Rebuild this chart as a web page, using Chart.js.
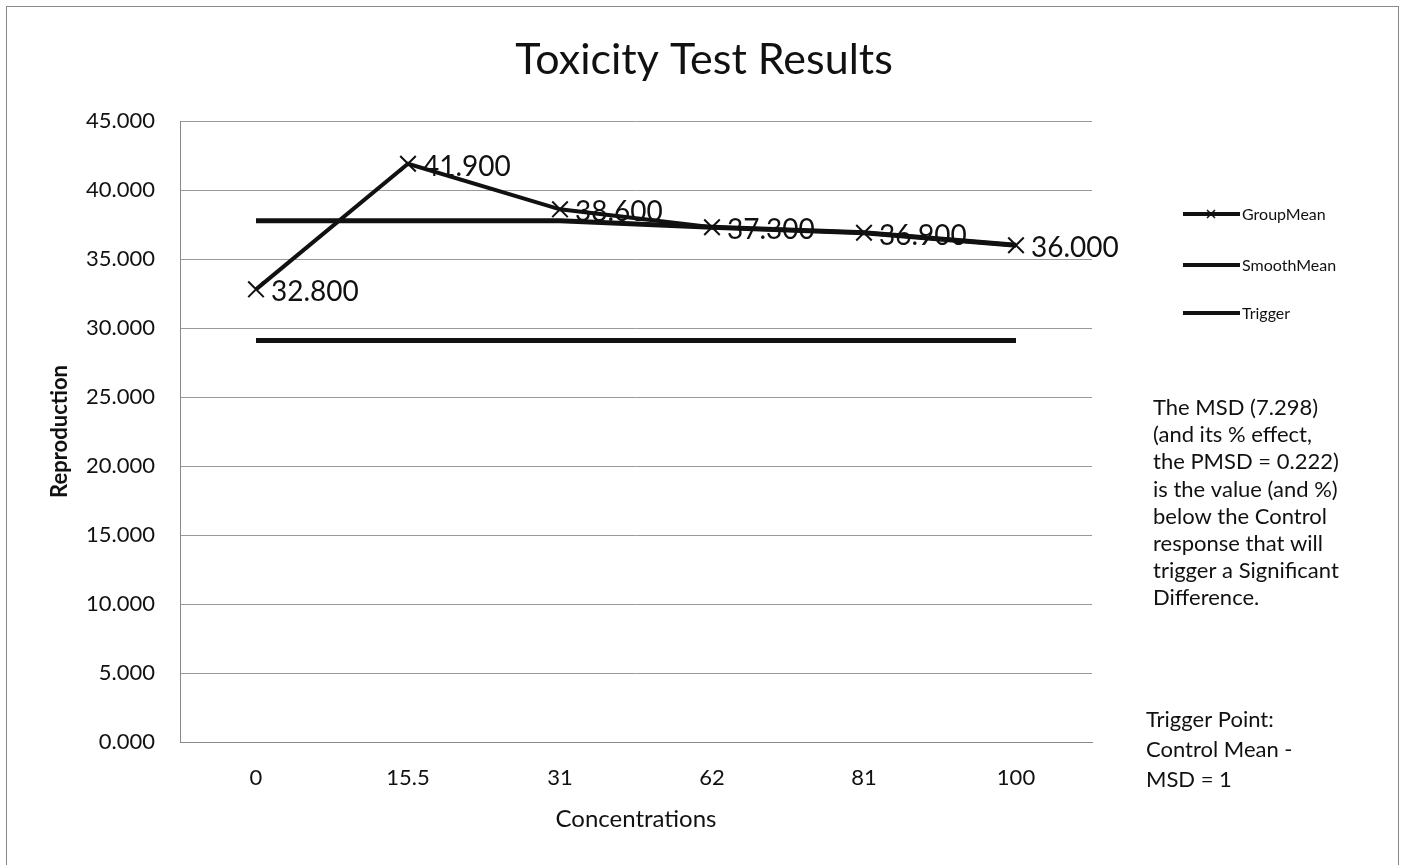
<!doctype html>
<html>
<head>
<script src="https://cdn.jsdelivr.net/npm/chart.js@4.4.0/dist/chart.umd.min.js"></script>
<style>
  body { margin: 0; background: #fff; }
  #wrap { width: 1406px; height: 865px; }
</style>
</head>
<body>
<div id="wrap"><canvas id="myChart" width="1406" height="865"></canvas></div>
<script>
// chart values
var concentrations = ['0', '15.5', '31', '62', '81', '100'];
var groupMean = [32.8, 41.9, 38.6, 37.3, 36.9, 36.0];
var smoothMean = [37.767, 37.767, 37.767, 37.3, 36.9, 36.0];
var trigger = [29.1, 29.1, 29.1, 29.1, 29.1, 29.1];
var yTicks = [0, 5, 10, 15, 20, 25, 30, 35, 40, 45];

var noteLines = ['The MSD (7.298)', '(and its % effect,', 'the PMSD = 0.222)',
  'is the value (and %)', 'below the Control', 'response that will',
  'trigger a Significant', 'Difference.'];
var triggerLines = ['Trigger Point:', 'Control Mean -', 'MSD = 1'];

var FONT = 'Lato, "Open Sans", sans-serif';

// title, border, labels, legend and notes
var extras = {
  id: 'extras',
  beforeDraw: function (chart) {
    var c = chart.ctx;
    c.save();
    c.fillStyle = '#fff';
    c.fillRect(0, 0, chart.width, chart.height);
    c.strokeStyle = '#888';
    c.lineWidth = 1;
    c.strokeRect(6.5, 6.5, 1392, 900);
    c.restore();
  },
  afterDraw: function (chart) {
    var c = chart.ctx;
    c.save();
    c.fillStyle = '#111';
    c.textBaseline = 'middle';
    c.textAlign = 'center';
    c.font = '43px ' + FONT;
    c.fillText('Toxicity Test Results', 704, 60);

    // point labels
    var meta = chart.getDatasetMeta(0);
    c.textAlign = 'left';
    c.font = '28px ' + FONT;
    meta.data.forEach(function (pt, i) {
      c.fillText(groupMean[i].toFixed(3), pt.x + 15, pt.y + 3);
    });

    // legend
    var ly = [214, 265, 313];
    chart.data.datasets.forEach(function (ds, i) {
      c.strokeStyle = '#111';
      c.lineWidth = 4;
      c.beginPath();
      c.moveTo(1183, ly[i]);
      c.lineTo(1240, ly[i]);
      c.stroke();
      if (i === 0) {
        c.lineWidth = 1.5;
        c.beginPath();
        c.moveTo(1207, ly[i] - 4); c.lineTo(1215, ly[i] + 4);
        c.moveTo(1215, ly[i] - 4); c.lineTo(1207, ly[i] + 4);
        c.stroke();
      }
      c.font = '16px ' + FONT;
      c.fillText(ds.label, 1242, ly[i] + 1);
    });

    // notes
    c.font = '22px ' + FONT;
    noteLines.forEach(function (t, i) {
      c.fillText(t, 1153, 408 + i * 27.2);
    });
    triggerLines.forEach(function (t, i) {
      c.fillText(t, 1146, 720 + i * 30);
    });
    c.restore();
  }
};

var ctx = document.getElementById('myChart');
var myChart = new Chart(ctx, {
  type: 'line',
  data: {
    labels: concentrations,
    datasets: [
      {
        label: 'GroupMean',
        data: groupMean,
        borderColor: '#111',
        borderWidth: 4,
        pointStyle: 'crossRot',
        pointRadius: 11,
        pointBorderWidth: 2,
        pointBorderColor: '#111',
        tension: 0
      },
      {
        label: 'SmoothMean',
        data: smoothMean,
        borderColor: '#111',
        borderWidth: 5,
        pointRadius: 0,
        tension: 0
      },
      {
        label: 'Trigger',
        data: trigger,
        borderColor: '#111',
        borderWidth: 5,
        pointRadius: 0,
        tension: 0
      }
    ]
  },
  options: {
    responsive: false,
    animation: false,
    events: [],
    layout: { padding: { left: 0, top: 121, right: 314, bottom: 0 } },
    plugins: {
      legend: { display: false },
      tooltip: { enabled: false },
      title: { display: false }
    },
    scales: {
      x: {
        offset: true,
        grid: { display: false, drawTicks: false },
        border: { display: true, color: '#888', width: 1 },
        ticks: { color: '#111', font: { family: FONT, size: 22 }, padding: 23 },
        title: {
          display: true, text: 'Concentrations', color: '#111',
          font: { family: FONT, size: 24 }, padding: { top: 0, bottom: 31 }
        },
        afterFit: function (s) { s.height = 123; }
      },
      y: {
        min: 0,
        max: 45,
        afterBuildTicks: function (s) {
          s.ticks = yTicks.map(function (v) { return { value: v }; });
        },
        grid: { color: '#999', lineWidth: 1, drawTicks: false },
        border: { display: true, color: '#888', width: 1 },
        ticks: {
          color: '#111', font: { family: FONT, size: 22 }, padding: 25,
          callback: function (v) { return Number(v).toFixed(3); }
        },
        title: {
          display: true, text: 'Reproduction', color: '#111',
          font: { family: FONT, size: 22, weight: 'bold' }, padding: { top: 47, bottom: 0 }
        },
        afterFit: function (s) { s.width = 180; }
      }
    }
  },
  plugins: [extras]
});
</script>
</body>
</html>
